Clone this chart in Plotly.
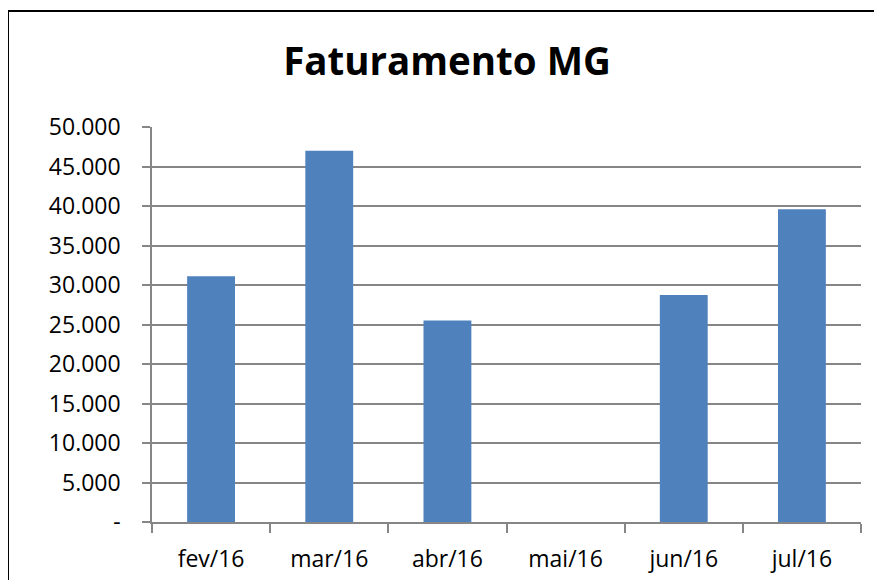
import plotly.graph_objects as go

categories = ["fev/16", "mar/16", "abr/16", "mai/16", "jun/16", "jul/16"]
values = [31100, 47000, 25500, 0, 28750, 39600]
y_tickvals = [0, 5000, 10000, 15000, 20000, 25000, 30000, 35000, 40000, 45000, 50000]
y_ticktext = ["-", "5.000", "10.000", "15.000", "20.000", "25.000", "30.000", "35.000", "40.000", "45.000", "50.000"]

# page body has an 8px margin; compensate so the figure sits on the window grid
OFF = 8
W, H = 882 - OFF, 580 - OFF
L, R, T, B = 152 - OFF, 21, 127 - OFF, 58
pw, ph = W - L - R, H - T - B

fig = go.Figure()
fig.add_trace(go.Bar(
    x=categories, y=values,
    marker=dict(color="#4F81BD", line=dict(width=0)),
    width=0.405,
))

FONT = "Open Sans"
fig.update_layout(
    width=W, height=H,
    margin=dict(l=L, r=R, t=T, b=B, autoexpand=False),
    paper_bgcolor="white", plot_bgcolor="white",
    showlegend=False,
    title=dict(text="<b>Faturamento MG</b>", x=(447 - OFF) / W, xanchor="center",
               y=1 - (62 - OFF) / H, yanchor="middle",
               font=dict(family=FONT, size=38.5, color="black")),
    font=dict(family=FONT, color="black"),
)
fig.update_xaxes(
    type="category", automargin=False,
    showline=True, linecolor="#868686", linewidth=1.5,
    ticks="outside", tickson="boundaries", ticklen=9, tickcolor="#868686", tickwidth=1.5,
    tickfont=dict(size=23, color="black", family=FONT),
    ticklabelstandoff=16,
    showgrid=False,
)
fig.update_yaxes(
    range=[0, 50000], automargin=False,
    tickvals=y_tickvals, ticktext=y_ticktext,
    showline=True, linecolor="#868686", linewidth=1.5,
    ticks="outside", ticklen=8, tickcolor="#868686", tickwidth=1.5,
    showgrid=True, gridcolor="#868686", gridwidth=1.5,
    zeroline=False,
    tickfont=dict(size=23, color="black", family=FONT),
    ticklabelstandoff=17,
)
# outer chart frame
fig.add_shape(type="rect", xref="paper", yref="paper",
              x0=(8 - OFF - L) / pw, x1=(W + 20 - L) / pw,
              y0=(H - B - (H + 20)) / ph, y1=(H - B - (11 - OFF)) / ph,
              line=dict(color="black", width=2), fillcolor="rgba(0,0,0,0)", layer="below")

fig.write_html("out.html")
